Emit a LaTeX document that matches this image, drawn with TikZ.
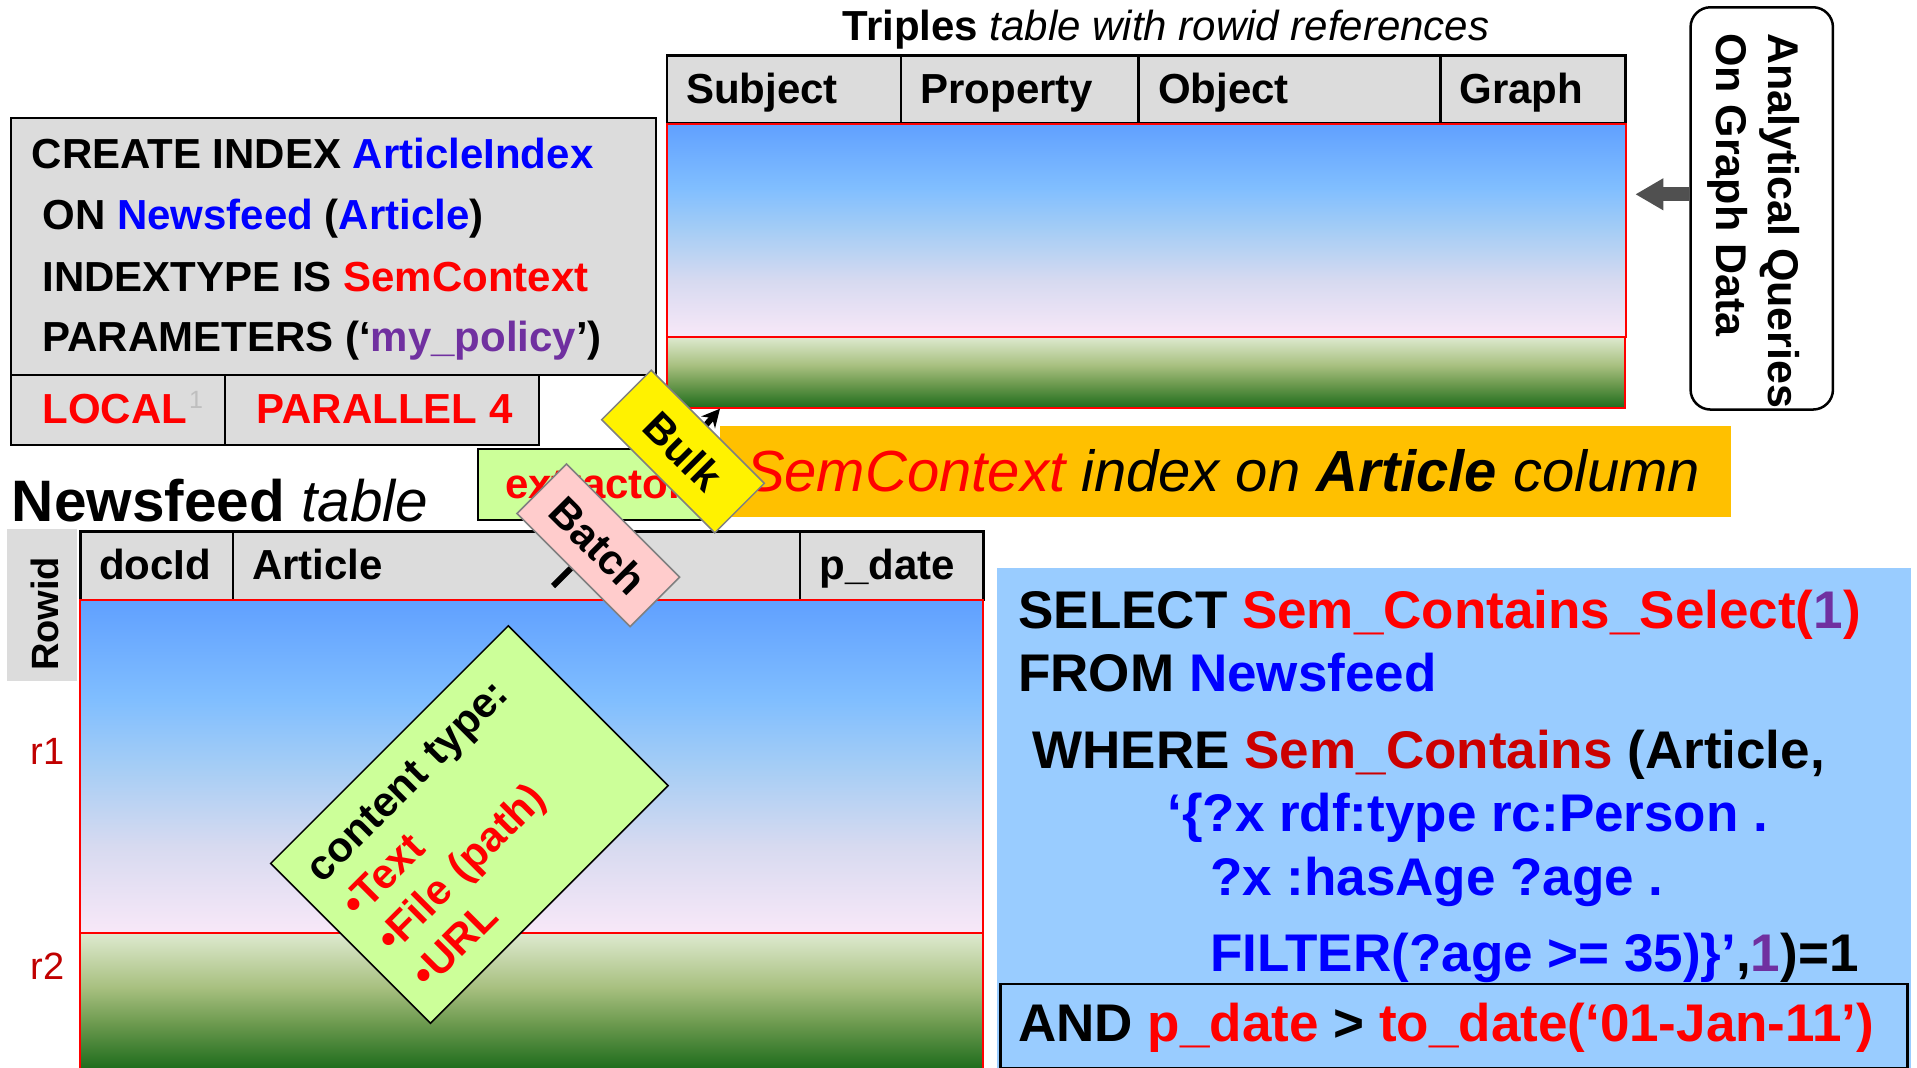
\documentclass[tikz,border=0pt]{standalone}
\usepackage{fontspec}
\setmainfont{Liberation Sans}
\usetikzlibrary{arrows.meta,calc}

\definecolor{hdrgray}{HTML}{DCDCDC}
\definecolor{kwblue}{HTML}{0000FF}
\definecolor{kwred}{HTML}{FF0000}
\definecolor{kwdred}{HTML}{CC0000}
\definecolor{kwpurple}{HTML}{7030A0}
\definecolor{rowred}{HTML}{C00000}
\definecolor{leaf}{HTML}{CCFF99}
\definecolor{pinkbox}{HTML}{FFCCCC}
\definecolor{bannerorange}{HTML}{FFC000}
\definecolor{sqlblue}{HTML}{99CCFF}
\definecolor{arrowgray}{HTML}{505050}
\definecolor{tagedge}{HTML}{808080}
% sky gradient stops
\definecolor{skytop}{RGB}{96,160,255}
\definecolor{skymid}{RGB}{128,190,255}
\definecolor{skypale}{RGB}{165,205,245}
\definecolor{skylav}{RGB}{215,218,240}
\definecolor{skyend}{RGB}{248,232,248}
% meadow gradient stops
\definecolor{grasstop}{RGB}{222,234,208}
\definecolor{grassmid}{RGB}{168,192,128}
\definecolor{grasslow}{RGB}{110,155,80}
\definecolor{grassbot}{RGB}{30,108,28}

\pgfdeclareverticalshading{skyfade}{100bp}{color(0bp)=(skyend); color(25bp)=(skyend); color(38bp)=(skylav); color(50bp)=(skypale); color(60bp)=(skymid); color(75bp)=(skytop); color(100bp)=(skytop)}
\pgfdeclareverticalshading{meadowfade}{100bp}{color(0bp)=(grassbot); color(25bp)=(grassbot); color(42bp)=(grasslow); color(55bp)=(grassmid); color(75bp)=(grasstop); color(100bp)=(grasstop)}

\newcommand\sizept[2]{\fontsize{#1}{#2}\selectfont}

\begin{document}
\begin{tikzpicture}[x=1pt,y=-1pt,
  txt/.style={inner sep=0pt, outer sep=0pt, anchor=base west},
  hb/.style={font=\bfseries\sizept{42}{50}},
  panel/.style={draw=black, line width=2pt, fill=hdrgray, inner sep=0pt, anchor=north west},
  cell/.style={draw=black, line width=2.8pt, fill=hdrgray, inner sep=0pt, anchor=north west},
  sky/.style={draw=red, line width=2pt, shade, shading=skyfade, inner sep=0pt, anchor=north west},
  meadow/.style={draw=red, line width=2pt, shade, shading=meadowfade, inner sep=0pt, anchor=north west},
  tagbox/.style={draw=tagedge, line width=1.5pt, minimum width=160pt, minimum height=70pt,
    rotate=-45, inner sep=0pt, font=\bfseries\sizept{42}{50}},
  flow/.style={line width=6pt, -{Stealth[length=18pt,width=18pt]}},
  graybar/.style={draw=arrowgray, line width=14pt, -{Triangle[length=28pt,width=30pt]}},
  sqlline/.style={txt, font=\bfseries\sizept{53}{60}}
]
\useasboundingbox (0,0) rectangle (1917,1068);

% ---------- CREATE INDEX statement ----------
\node[panel, minimum width=645.5pt, minimum height=257.3pt] (ci) at (9.5,116.7) {};
\node[txt, hb] (ci1) at (31.7,168.3) {CREATE INDEX {\color{kwblue}ArticleIndex}};
\node[txt, hb] (ci2) at (42.5,229.3) {ON {\color{kwblue}Newsfeed} ({\color{kwblue}Article})};
\node[txt, hb] (ci3) at (42.5,291.7) {INDEXTYPE IS {\color{kwred}SemContext}};
\node[txt, hb] (ci4) at (42.5,351.7) {PARAMETERS (‘{\color{kwpurple}my\_policy}’)};

\node[panel, minimum width=214.5pt, minimum height=70pt] (loc) at (9.5,374) {};
\node[panel, minimum width=314pt, minimum height=70pt] (par) at (224,374) {};
\node[txt, hb, text=kwred] (loctxt) at (42.5,423) {LOCAL};
\node[txt, font=\sizept{25}{25}, text=black!25] (locnote) at (189,408) {1};
\node[txt, hb, text=kwred] (partxt) at (256.7,423) {PARALLEL 4};

% ---------- Triples table ----------
\node[inner sep=0pt, anchor=base, font=\sizept{42}{48}] (ttitle) at (1166,40)
  {\textbf{Triples} \textit{table with rowid references}};
\node[cell, minimum width=234.1pt, minimum height=67.7pt] (tS) at (665.5,54) {};
\node[cell, minimum width=237.8pt, minimum height=67.7pt] (tP) at (899.6,54) {};
\node[cell, minimum width=301.6pt, minimum height=67.7pt] (tO) at (1137.4,54) {};
\node[cell, minimum width=185pt, minimum height=67.7pt] (tG) at (1439,54) {};
\node[txt, hb] (tStxt) at (686,103.3) {Subject};
\node[txt, hb] (tPtxt) at (920.6,103.3) {Property};
\node[txt, hb] (tOtxt) at (1158,103.3) {Object};
\node[txt, hb] (tGtxt) at (1459.5,103.3) {Graph};
\node[sky, minimum width=959.8pt, minimum height=213pt] (tsky) at (665.5,122.7) {};
\node[meadow, minimum width=958.5pt, minimum height=71pt] (tgrass) at (665.5,335.7) {};

% ---------- analytical queries ----------
\node[draw=black, line width=2.5pt, rounded corners=20pt, fill=white, inner sep=0pt,
  anchor=north west, minimum width=142.4pt, minimum height=402.3pt] (aq) at (1689.3,6) {};
\node[txt, font=\bfseries\sizept{43}{50}, rotate=-90] (aq1) at (1768.3,33) {Analytical Queries};
\node[txt, font=\bfseries\sizept{43}{50}, rotate=-90] (aq2) at (1716.7,33) {On Graph Data};
\coordinate (aqrow) at (0,194.3);
\draw[graybar] (aq.west |- aqrow) -- ([xshift=8pt]tsky.east |- aqrow);

% ---------- index banner ----------
\node[fill=bannerorange, inner sep=0pt, anchor=north west,
  minimum width=1011pt, minimum height=90.7pt] (ban) at (720,426) {};
\node[txt, font=\itshape\sizept{58}{64}] (bantxt) at (746,491.7)
  {{\color{kwred}SemContext} index on \textbf{Article} column};

% ---------- Newsfeed table ----------
\node[txt, font=\sizept{58.5}{64}] (ntitle) at (12,521.7) {\textbf{Newsfeed} \textit{table}};
\node[fill=hdrgray, inner sep=0pt, anchor=north west, minimum width=70.1pt,
  minimum height=152.1pt] (rowid) at (6.4,528.7) {};
\node[inner sep=0pt, rotate=90, font=\bfseries\sizept{38}{42}] (rowidtxt) at (45,614) {Rowid};
\node[cell, minimum width=152.5pt, minimum height=68.8pt] (nD) at (79,529.8) {};
\node[cell, minimum width=567pt, minimum height=68.8pt] (nA) at (231.5,529.8) {};
\node[cell, minimum width=183.5pt, minimum height=68.8pt] (nP) at (798.5,529.8) {};
\node[txt, hb] (nDtxt) at (99,579.4) {docId};
\node[txt, hb] (nAtxt) at (252,579.4) {Article};
\node[txt, hb] (nPtxt) at (819.5,579.4) {p\_date};
\node[sky, minimum width=903pt, minimum height=332.7pt] (nsky) at (79,599) {};
\node[meadow, minimum width=903pt, minimum height=136pt] (ngrass) at (79,931.7) {};
\node[txt, font=\sizept{38}{44}, text=rowred] (r1) at (30.6,764.7) {r1};
\node[txt, font=\sizept{38}{44}, text=rowred] (r2) at (30.6,979.6) {r2};

% ---------- extractor and data flow ----------
\node[draw=black, line width=2pt, fill=leaf, inner sep=0pt, minimum width=234.3pt,
  minimum height=71pt, text=kwred, font=\bfseries\sizept{42}{50}] (ext) at (594.9,484.5) {extractor};
\coordinate (artsrc) at (553,586);
\draw[flow] (artsrc) -- ([xshift=24pt]ext.south);
\draw[flow] ([xshift=91pt]ext.north) -- ([xshift=54.5pt]tgrass.south west);

\node[tagbox, fill=pinkbox] (batch) at (598.3,545.3) {Batch};
\node[tagbox, fill=yellow] (bulk) at (683,451.5) {Bulk};

% ---------- content type card ----------
\node[draw=black, line width=1.5pt, fill=leaf, inner sep=0pt, rotate=45,
  minimum width=336pt, minimum height=226pt] (ctype) at (469.4,824.5) {};
\node[inner sep=0pt, rotate=45, text width=292pt, align=left,
  font=\bfseries\sizept{42}{50}] (ctypetxt) at (ctype.center)
  {content type:\\ {\color{kwred}•Text}\\ {\color{kwred}•File (path)}\\ {\color{kwred}•URL}};

% ---------- SQL query ----------
\node[fill=sqlblue, inner sep=0pt, anchor=north west, minimum width=914pt,
  minimum height=501pt] (sql) at (997,567.3) {};
\node[draw=black, line width=2.5pt, fill=sqlblue, inner sep=0pt, anchor=north west,
  minimum width=907.3pt, minimum height=84pt] (andbox) at (999,982.7) {};
\node[sqlline] (q1) at (1018.3,628) {SELECT {\color{kwred}Sem\_Contains\_Select({\color{kwpurple}1})}};
\node[sqlline] (q2) at (1018.3,691.7) {FROM {\color{kwblue}Newsfeed}};
\node[sqlline] (q3) at (1032.6,768.3) {WHERE {\color{kwdred}Sem\_Contains} (Article,};
\node[sqlline, text=kwblue] (q4) at (1167.4,831.7) {‘\{?x rdf:type rc:Person .};
\node[sqlline, text=kwblue] (q5) at (1210,895) {?x :hasAge ?age .};
\node[sqlline] (q6) at (1210,971.7) {{\color{kwblue}FILTER(?age >= 35)\}’},{\color{kwpurple}1})=1};
\node[sqlline] (q7) at (1018.4,1041.7) {AND {\color{kwred}p\_date} > {\color{kwred}to\_date(‘01-Jan-11’)}};
\end{tikzpicture}
\end{document}
